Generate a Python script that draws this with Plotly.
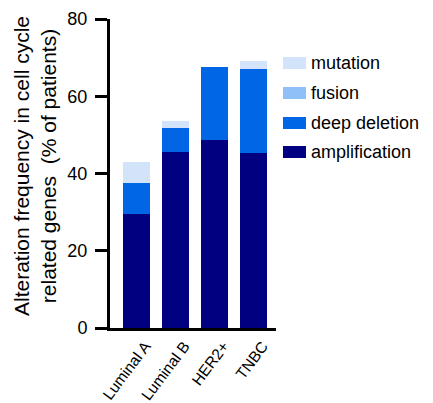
import plotly.graph_objects as go

categories = ["Luminal A", "Luminal B", "HER2+", "TNBC"]
amplification = [29.5, 45.6, 48.8, 45.3]
deep_deletion = [8.0, 6.3, 18.9, 21.7]
fusion = [0.0, 0.0, 0.0, 0.0]
mutation = [5.4, 1.8, 0.0, 2.0]

series_names = ["amplification", "deep deletion", "fusion", "mutation"]
series_values = [amplification, deep_deletion, fusion, mutation]
colors = ["#000080", "#0066E6", "#8FC0F7", "#D3E4FA"]

fig = go.Figure()
for name, vals, col in zip(series_names, series_values, colors):
    fig.add_trace(go.Bar(x=categories, y=vals, name=name, marker=dict(color=col, line=dict(width=0)),
                         width=0.69, showlegend=False))

def px_x(p):
    return (p - 110) / 166

def px_y(p):
    return (328 - p) / 309

# manual legend (top item = mutation)
legend_rows = list(reversed(list(zip(series_names, colors))))
row_y = [63, 93, 123, 152]
for (name, col), yy in zip(legend_rows, row_y):
    fig.add_shape(type="rect", xref="paper", yref="paper",
                  x0=px_x(283), x1=px_x(306), y0=px_y(yy + 6), y1=px_y(yy - 6),
                  fillcolor=col, line=dict(width=0))
    fig.add_annotation(text=name, xref="paper", yref="paper",
                       x=px_x(309), y=px_y(yy), xanchor="left", yanchor="middle",
                       showarrow=False, font=dict(size=18, color="#000000"))

# y-axis title
fig.add_annotation(text="Alteration frequency in cell cycle<br>related genes\u00a0\u00a0(% of patients)",
                   xref="paper", yref="paper", x=px_x(35), y=px_y(166), xanchor="center", yanchor="middle",
                   textangle=-90, showarrow=False, font=dict(size=21, color="#000000"))

fig.update_layout(
    width=433, height=403,
    margin=dict(l=110, r=157, t=19, b=75, autoexpand=False),
    barmode="stack",
    plot_bgcolor="white", paper_bgcolor="white",
    font=dict(family="Liberation Sans, Arial, sans-serif", color="black"),
    xaxis=dict(range=[-0.67, 3.57], showline=True, linewidth=3, linecolor="black",
               ticks="", tickangle=-53, tickfont=dict(size=15.5), ticklabelshift=9,
               showgrid=False, zeroline=False),
    yaxis=dict(range=[0, 80], tickvals=[0, 20, 40, 60, 80], showline=True, linewidth=3, linecolor="black",
               ticks="outside", ticklen=12, tickwidth=3, tickcolor="black", ticklabelstandoff=4,
               tickfont=dict(size=18), showgrid=False, zeroline=False),
)

fig.write_html("out.html", config={"displayModeBar": False},
               post_script="document.body.style.margin='0px';")
